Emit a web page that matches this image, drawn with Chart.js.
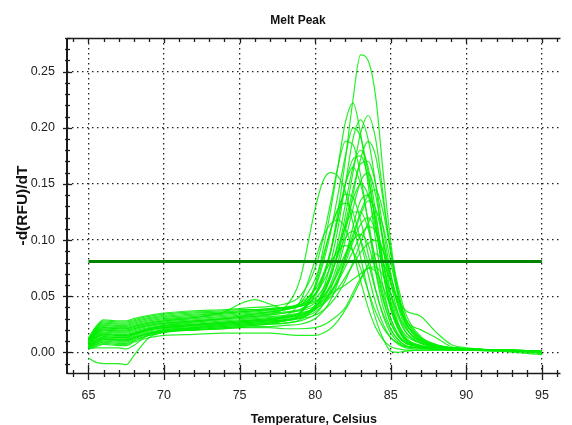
<!DOCTYPE html>
<html><head><meta charset="utf-8">
<script src="https://cdn.jsdelivr.net/npm/chart.js@4.4.1/dist/chart.umd.min.js"></script>
<style>html,body{margin:0;padding:0;background:#fff;overflow:hidden}</style>
</head><body>
<canvas id="c" width="572" height="425"></canvas>
<script>
const temps = [65, 65.5, 66, 67, 67.5, 68, 69, 70, 72, 74, 75, 76, 77, 78, 79, 80, 80.5, 81, 81.5, 82, 82.5, 83, 83.5, 84, 84.5, 85, 85.5, 86, 87, 88, 89, 90, 92, 95];

const wellA = [.009,.016,.020,.019,.019,.021,.024,.026, .028,.030,.031,.032,.033,.035,.038, .050,.064,.088,.125,.172,.225,.265,.260,.228,.160,.098,.052,.024, .009,.006,.004,.003,.002,.001];
const wellB = [.007,.013,.016,.015,.015,.017,.021,.023, .025,.027,.028,.029,.030,.032,.036, .060,.090,.125,.165,.205,.222,.195,.150,.100,.058,.030,.015,.008, .005,.004,.003,.003,.002,.001];
const wellC = [.010,.018,.022,.021,.021,.023,.026,.028, .030,.032,.033,.034,.035,.036,.038, .044,.052,.066,.090,.122,.160,.195,.211,.190,.140,.088,.050,.027, .010,.006,.004,.003,.002,.001];
const wellD = [.005,.009,.012,.011,.011,.013,.017,.020, .022,.024,.025,.026,.027,.029,.032, .042,.055,.078,.110,.150,.190,.207,.190,.150,.095,.052,.026,.013, .006,.004,.003,.003,.002,.001];
const wellE = [.011,.020,.025,.024,.024,.026,.029,.031, .033,.035,.036,.037,.038,.040,.044, .058,.078,.105,.140,.175,.200,.192,.160,.115,.070,.038,.020,.010, .005,.004,.003,.002,.002,.001];
const wellF = [.008,.014,.018,.017,.017,.019,.022,.024, .026,.028,.029,.030,.031,.032,.034, .040,.048,.060,.080,.108,.140,.172,.188,.175,.135,.090,.054,.030, .012,.006,.004,.003,.002,.001];
const wellG = [.004,.007,.010,.009,.009,.012,.016,.019, .021,.023,.024,.025,.026,.028,.031, .040,.052,.070,.098,.132,.165,.180,.165,.125,.080,.044,.022,.011, .005,.004,.003,.002,.002,.001];
const wellH = [.012,.022,.028,.027,.027,.029,.032,.034, .036,.037,.038,.038,.039,.040,.042, .048,.056,.068,.088,.115,.145,.168,.170,.150,.110,.070,.040,.022, .010,.006,.004,.003,.002,.001];
const wellI = [.006,.011,.014,.013,.013,.016,.020,.022, .024,.026,.027,.028,.029,.031,.035, .052,.068,.090,.120,.150,.165,.150,.118,.080,.048,.026,.014,.008, .005,.004,.003,.002,.002,.001];
const wellJ = [.009,.016,.020,.019,.019,.021,.024,.026, .028,.030,.031,.032,.034,.040,.065, .128,.152,.160,.157,.143,.115,.085,.055,.030,.012,.001,.000,.001, .002,.002,.002,.002,.001,.000];
const wellK = [.006,.012,.015,.014,.014,.016,.020,.022, .024,.026,.027,.028,.029,.030,.033, .040,.050,.066,.088,.112,.136,.150,.140,.110,.072,.040,.021,.011, .005,.004,.003,.002,.002,.001];
const wellL = [.010,.019,.023,.022,.022,.024,.027,.029, .031,.033,.034,.035,.036,.038,.044, .065,.085,.108,.128,.141,.138,.118,.088,.056,.032,.017,.009,.005, .004,.003,.003,.002,.002,.001];
const wellM = [.008,.014,.017,.016,.016,.018,.021,.023, .025,.027,.028,.029,.030,.031,.033, .038,.044,.053,.066,.083,.102,.122,.135,.128,.100,.068,.042,.025, .011,.006,.004,.003,.002,.001];
const wellN = [.004,.008,.011,.010,.010,.013,.017,.019, .021,.023,.024,.025,.026,.028,.034, .058,.082,.108,.127,.133,.124,.100,.070,.044,.025,.013,.007,.004, .003,.003,.002,.002,.002,.001];
const wellO = [.011,.021,.026,.025,.025,.027,.030,.032, .034,.035,.036,.037,.038,.039,.042, .052,.062,.076,.094,.112,.125,.125,.110,.082,.052,.030,.016,.009, .005,.004,.003,.002,.002,.001];
const wellP = [.005,.010,.013,.012,.012,.015,.019,.021, .023,.025,.026,.027,.028,.029,.031, .036,.042,.051,.064,.080,.098,.114,.120,.108,.080,.052,.031,.018, .008,.005,.004,.003,.002,.001];
const wellQ = [.009,.017,.021,.020,.020,.022,.025,.027, .029,.031,.032,.033,.034,.035,.037, .041,.046,.053,.063,.076,.090,.104,.112,.108,.090,.062,.046,.037, .032,.018,.007,.004,.002,.001];
const wellR = [.003,.006,.008,.007,.007,.010,.015,.018, .020,.022,.023,.024,.025,.026,.029, .040,.052,.068,.086,.102,.108,.100,.080,.055,.034,.020,.011,.006, .004,.003,.003,.002,.002,.001];
const wellS = [.008,.015,.019,.018,.018,.020,.023,.025, .027,.029,.030,.031,.032,.033,.035, .039,.043,.049,.057,.067,.078,.089,.097,.100,.090,.068,.045,.028, .020,.013,.005,.003,.002,.001];
const wellT = [.007,.013,.016,.015,.015,.017,.021,.024, .027,.030,.032,.034,.036,.038,.041, .046,.049,.052,.056,.060,.065,.070,.075,.076,.068,.052,.034,.021, .010,.006,.004,.003,.002,.000];
const wellT2 = [.005,.009,.012,.011,.011,.013,.017,.019, .020,.021,.022,.022,.022,.021,.021, .022,.024,.028,.033,.040,.053,.066,.075,.072,.058,.040,.025,.015, .008,.005,.004,.003,.002,.001];
const wellU = [.010,.019,.024,.023,.023,.025,.028,.030, .032,.034,.035,.036,.037,.038,.042, .056,.068,.080,.090,.095,.090,.075,.055,.036,.022,.013,.008,.005, .004,.003,.003,.002,.002,.001];
const wellV = [.006,.011,.014,.013,.013,.016,.020,.022, .024,.026,.027,.028,.029,.032,.045, .082,.102,.114,.118,.110,.090,.064,.040,.022,.011,.005,.003,.002, .002,.002,.002,.002,.001,-.002];
const wellW = [.011,.021,.027,.026,.026,.028,.031,.033, .035,.036,.037,.038,.039,.040,.041, .045,.050,.058,.070,.086,.105,.125,.140,.145,.125,.090,.058,.034, .014,.007,.004,.003,.002,.001];
const wellX = [.005,.009,.012,.011,.011,.014,.018,.020, .022,.024,.025,.026,.027,.028,.030, .033,.037,.043,.052,.064,.080,.098,.115,.125,.112,.080,.050,.030, .013,.007,.004,.003,.002,.001];
const wellY = [.004,.007,.009,.008,.008,.011,.015,.018, .020,.022,.023,.024,.025,.026,.028, .034,.042,.055,.075,.100,.128,.152,.160,.140,.100,.062,.034,.018, .008,.005,.004,.003,.002,.001];
const wellZ = [.013,.023,.029,.028,.028,.030,.033,.035, .037,.038,.039,.040,.041,.043,.050, .075,.100,.132,.165,.188,.185,.158,.115,.072,.040,.021,.011,.006, .004,.003,.003,.002,.002,.001];
const wellAA = [-.005,-.009,-.010,-.010,-.011,-.003,.013,.018, .022,.025,.026,.027,.028,.029,.031, .038,.046,.058,.072,.088,.100,.105,.096,.072,.046,.026,.014,.008, .005,.004,.003,.002,.002,.001];
const wellAB = [.003,.004,.004,.004,.003,.006,.016,.018, .020,.021,.022,.023,.023,.024,.025, .030,.036,.046,.062,.085,.112,.135,.140,.120,.080,.046,.024,.012, .006,.004,.003,.002,.002,-.001];
const wellAC = [.009,.017,.022,.021,.021,.023,.026,.028, .031,.036,.043,.047,.043,.039,.042, .052,.066,.088,.118,.150,.172,.175,.155,.115,.072,.040,.021,.011, .005,.004,.003,.002,.002,.001];
const wellAD = [.003,.005,.007,.006,.006,.009,.013,.015, .016,.017,.017,.017,.017,.016,.015, .015,.017,.021,.028,.038,.050,.064,.078,.088,.080,.062,.042,.026, .012,.006,.004,.003,.002,.001];

const wells = [wellA, wellB, wellC, wellD, wellE, wellF, wellG, wellH, wellI, wellJ, wellK, wellL, wellM, wellN, wellO, wellP, wellQ, wellR, wellS, wellT, wellT2, wellU, wellV, wellW, wellX, wellY, wellZ, wellAA, wellAB, wellAC, wellAD];

const thresholdValue = 0.081;
const thresholdTemps = [65, 95];

const xTicks = [64,65,66,67,68,69,70,71,72,73,74,75,76,77,78,79,80,81,82,83,84,85,86,87,88,89,90,91,92,93,94,95,96];
const xTickLabels = {65:'65',70:'70',75:'75',80:'80',85:'85',90:'90',95:'95'};
const yTicks = [-0.01,0,0.01,0.02,0.03,0.04,0.05,0.06,0.07,0.08,0.09,0.10,0.11,0.12,0.13,0.14,0.15,0.16,0.17,0.18,0.19,0.20,0.21,0.22,0.23,0.24,0.25,0.26,0.27,0.28];
const yTickLabels = {0:'0.00',5:'0.05',10:'0.10',15:'0.15',20:'0.20',25:'0.25'};

const FONT = "'Liberation Sans', Arial, sans-serif";
const isMajorX = v => xTickLabels[Math.round(v)] !== undefined && Math.abs(v - Math.round(v)) < 1e-6;
const yKey = v => Math.round(v * 100);
const isMajorY = v => yTickLabels[yKey(v)] !== undefined;

const datasets = [{
  data: thresholdTemps.map(t => ({x: t, y: thresholdValue})),
  borderColor: '#008400', borderWidth: 3, pointRadius: 0, tension: 0
}].concat(wells.map(w => ({
  data: temps.map((t, i) => ({x: t, y: w[i]})),
  borderColor: 'rgba(0,238,0,0.85)', borderWidth: 1.2, pointRadius: 0,
  cubicInterpolationMode: 'monotone'
})));

const decor = {
  id: 'decor',
  afterDraw(chart) {
    const {ctx, chartArea: a, scales: {x, y}} = chart;
    ctx.save();
    ctx.strokeStyle = '#1c1c1c';
    const seg = (x1, y1, x2, y2, w) => { ctx.lineWidth = w; ctx.beginPath(); ctx.moveTo(x1, y1); ctx.lineTo(x2, y2); ctx.stroke(); };
    const L = Math.round(a.left), B = Math.round(a.bottom), T = Math.round(a.top);
    seg(L, T, L, B + 1, 2);
    seg(L, B + 0.5, a.right, B + 0.5, 1.5);
    seg(L, T + 0.5, a.right, T + 0.5, 1.5);
    x.ticks.forEach(t => {
      const px = Math.round(x.getPixelForValue(t.value)) + 0.5;
      if (isMajorX(t.value)) { seg(px, B - 8, px, B + 7, 1.3); seg(px, T, px, T + 5, 1.3); }
      else { seg(px, B - 3, px, B + 4, 1.3); seg(px, T, px, T + 4, 1.3); }
    });
    y.ticks.forEach(t => {
      const py = Math.round(y.getPixelForValue(t.value)) + 0.5;
      if (isMajorY(t.value)) seg(L - 4, py, L + 5, py, 1.3);
      else seg(L - 2, py, L + 3, py, 1.3);
    });
    ctx.restore();
  }
};

new Chart(document.getElementById('c'), {
  type: 'line',
  data: {datasets},
  options: {
    responsive: false, animation: false,
    layout: {padding: {left: 24, right: 0, top: 0, bottom: 0}},
    plugins: {
      legend: {display: false}, tooltip: {enabled: false},
      title: {display: true, text: 'Melt Peak', color: '#111',
        font: {family: FONT, size: 12, weight: 'bold'}, padding: {top: 13, bottom: 10.6}}
    },
    scales: {
      x: {
        type: 'linear', min: 63.58, max: 96.23,
        afterBuildTicks: s => { s.ticks = xTicks.map(v => ({value: v})); },
        afterFit: s => { s.height = 52; },
        ticks: {autoSkip: false, maxRotation: 0, padding: 15, color: '#222',
          font: {family: FONT, size: 12.5},
          callback: v => isMajorX(v) ? xTickLabels[Math.round(v)] : ''},
        grid: {drawTicks: false, lineWidth: 1.3,
          color: c => (c.tick && isMajorX(c.tick.value)) ? '#222' : 'rgba(0,0,0,0)'},
        border: {display: false, dash: [1.5, 3.5]},
        title: {display: true, text: 'Temperature, Celsius', color: '#111',
          font: {family: FONT, size: 12.5, weight: 'bold'}, padding: {top: 0, bottom: -2.5}}
      },
      y: {
        type: 'linear', min: -0.01844, max: 0.28003,
        afterBuildTicks: s => { s.ticks = yTicks.map(v => ({value: v})); },
        afterFit: s => { s.width = 43; },
        ticks: {autoSkip: false, padding: 12, color: '#222',
          font: {family: FONT, size: 12.5},
          callback: v => isMajorY(v) ? yTickLabels[yKey(v)] : ''},
        grid: {drawTicks: false, lineWidth: 1.3,
          color: c => (c.tick && isMajorY(c.tick.value)) ? '#222' : 'rgba(0,0,0,0)'},
        border: {display: false, dash: [1.5, 3.5]},
        title: {display: true, text: '-d(RFU)/dT', color: '#111',
          font: {family: FONT, size: 15.5, weight: 'bold'}, padding: {top: -10.3, bottom: 0}}
      }
    }
  },
  plugins: [decor]
});
</script>
</body></html>
